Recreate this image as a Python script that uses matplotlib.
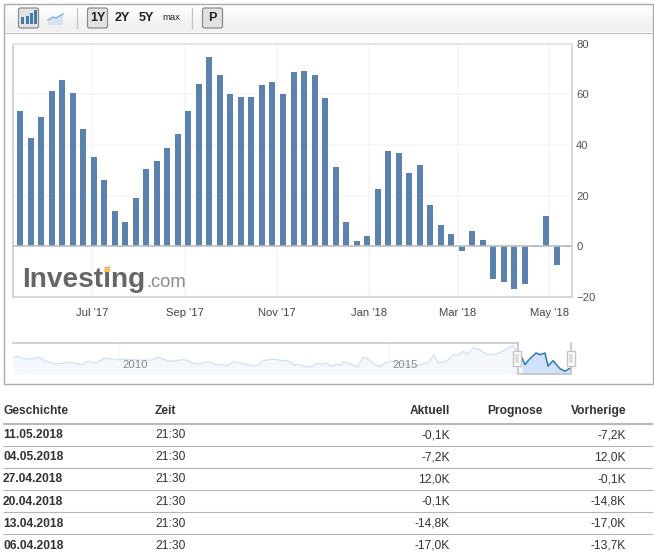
import matplotlib
matplotlib.use("Agg")
import matplotlib.pyplot as plt
from matplotlib.patches import FancyBboxPatch, Rectangle, Polygon

plt.rcParams['font.family'] = ['Liberation Sans', 'DejaVu Sans']

# ---- main series (thousand contracts, weekly)
bar_values = [53.5, 42.8, 51, 61.3, 65.7, 60.5, 46.3, 35.3, 26, 14, 9.5, 19.2, 30.6,
              33.7, 38.9, 44.4, 53.5, 64.1, 74.8, 67.6, 60.1, 58.9, 58.9, 63.7, 64.9,
              60.1, 68.8, 69.2, 67.6, 58.6, 31.4, 9.7, 2.2, 4.1, 22.7, 37.7, 37, 29,
              32.1, 16.4, 8.5, 4.9, -1.8, 6.1, 2.6, -12.8, -14, -17, -14.8, -0.1, 12,
              -7.2, -0.1]
month_positions = [6.84, 15.68, 24.43, 33.17, 41.63, 50.29]
month_labels = ["Jul '17", "Sep '17", "Nov '17", "Jan '18", "Mar '18", "May '18"]
y_ticks = [-20, 0, 20, 40, 60, 80]

# ---- navigator series
nav_x = [13, 18, 25, 33, 39, 45, 55, 70, 82, 88, 96, 105, 117, 125, 143, 152, 158, 168,
         177, 181, 187, 193, 200, 203, 209, 216, 222, 227, 234, 240, 253, 258, 263, 273,
         278, 281, 287, 295, 298, 307, 313, 316, 322, 327, 331, 337, 341, 343, 352, 358,
         363, 367, 372, 377, 381, 385, 393, 400, 415, 428, 434, 438, 447, 453, 458, 463,
         468, 473, 480, 487, 497, 510, 513, 517, 522, 525, 529, 536, 540, 545, 548, 553,
         560, 565, 569, 571]
nav_v = [16, 17.7, 15, 15.3, 16.7, 13.3, 10, 11.7, 9.3, 12.7, 11, 16, 14.3, 15, 13.7, 14,
         17, 13, 13, 14.3, 13.7, 10.7, 10, 11, 12.3, 9, 9.7, 8.3, 12.3, 11, 8.3, 8.7, 13.3,
         15, 14.3, 13, 13.7, 8.7, 9.7, 7, 7.7, 10.7, 9.7, 10.7, 7.7, 9.7, 8.7, 12.3, 9.3, 7,
         16.7, 16, 11.3, 8, 7.7, 11, 13, 11, 8, 11, 19.3, 11, 13.3, 19.3, 18.7, 22.7,
         20, 26, 24.3, 19.3, 20, 26.7, 28.3, 22.7, 16, 9.3, 14.3, 21, 19.3, 21, 8, 13.3,
         5.3, 2.7, 5.3, 6]
nav_tick_x = [119, 389]
nav_tick_labels = ["2010", "2015"]

# ---- table
table_header = ["Geschichte", "Zeit", "Aktuell", "Prognose", "Vorherige"]
table_dates = ["11.05.2018", "04.05.2018", "27.04.2018", "20.04.2018", "13.04.2018", "06.04.2018"]
table_times = ["21:30"] * 6
table_actual = ["-0,1K", "-7,2K", "12,0K", "-0,1K", "-14,8K", "-17,0K"]
table_prev = ["-7,2K", "12,0K", "-0,1K", "-14,8K", "-17,0K", "-13,7K"]

W, H = 654, 556
fig = plt.figure(figsize=(W / 100, H / 100), dpi=100, facecolor="white")


def px_axes(l, t, r, b, **kw):
    return fig.add_axes([l / W, 1 - b / H, (r - l) / W, (b - t) / H], **kw)


# overlay in pixel coordinates for page furniture
pg = fig.add_axes([0, 0, 1, 1], zorder=0)
pg.set_xlim(0, W)
pg.set_ylim(H, 0)
pg.axis("off")
PX = 12 * 0.72  # 12 px in points

pg.imshow([[0.985], [0.945]], cmap="gray", vmin=0, vmax=1, extent=(3.5, 652.5, 32.5, 3.5),
          aspect="auto", zorder=0, interpolation="bilinear")
pg.set_xlim(0, W)
pg.set_ylim(H, 0)
pg.add_patch(Rectangle((3.5, 3.5), 649, 380.5, fill=False, ec="#ababab", lw=1.0, zorder=1))
pg.plot([3.5, 652.5], [32.5, 32.5], color="#bdbdbd", lw=0.8, zorder=1)

for sx in (76.5, 191.5):
    pg.plot([sx, sx], [8, 28], color="#c4c4c4", lw=0.9, zorder=2)
for bx in (18.5, 87.5, 202.5):
    pg.add_patch(FancyBboxPatch((bx + 1.5, 9.5), 17, 17, boxstyle="round,pad=1.5,rounding_size=2",
                                fc="#e2e2e2", ec="#8c8c8c", lw=0.9, zorder=2))
for ix, ih in zip((21, 25.5, 30, 34), (7, 8, 11, 14)):
    pg.add_patch(Rectangle((ix, 24 - ih), 3, ih, fc="#4479ae", ec="none", zorder=3))
pg.add_patch(Polygon([(48, 20), (53, 17), (56, 18), (63, 14), (63, 25), (48, 25)],
                     fc="#d7e3f1", ec="none", zorder=3))
pg.plot([48, 53, 56, 63], [20, 17, 18, 14], color="#8fb2d6", lw=1.1, zorder=3)
for tx, s, fs in ((97.5, "1Y", 12), (122, "2Y", 12), (146, "5Y", 12), (171, "max", 9), (212.5, "P", 12)):
    pg.text(tx, 18, s, ha="center", va="center", fontsize=fs * 0.72 * 1.05, color="#222222",
            fontweight="bold" if fs == 12 else "normal", zorder=4)

# main chart
ax = px_axes(13, 43.5, 572, 297, zorder=2)
ax.set_facecolor("white")
xs = list(range(len(bar_values)))
ax.bar(xs, bar_values, width=0.57, color="#5b82ae", zorder=3)
ax.set_xlim(-0.665, 52.47)
ax.set_ylim(-20, 80)
ax.yaxis.tick_right()
ax.set_yticks(y_ticks)
ax.set_xticks(month_positions)
ax.set_xticklabels(month_labels)
ax.grid(True, color="#f6f6f6", lw=1.2, zorder=0)
ax.axhline(0, color="#bfbfbf", lw=1.2, zorder=4)
ax.tick_params(axis="both", length=0, labelsize=11 * 0.72 * 1.02, labelcolor="#555555")
ax.tick_params(axis="x", pad=8, labelcolor="#444444")
ax.tick_params(axis="y", pad=3)
for side, col, lw in (("left", "#cfcfcf", 1.3), ("top", "#e6e6e6", 1.5),
                      ("right", "#c9ced9", 1.1), ("bottom", "#c9ced9", 1.1)):
    ax.spines[side].set_color(col)
    ax.spines[side].set_linewidth(lw)

# logo
ax.text(0.0172, 0.04, "Investing", transform=ax.transAxes, fontsize=20.2, fontweight="bold",
        color="#666666", ha="left", va="baseline", zorder=5)
ax.text(0.238, 0.04, ".com", transform=ax.transAxes, fontsize=13.2,
        color="#8a8a8a", ha="left", va="baseline", zorder=5)
ax.add_patch(Polygon([(0.163, 0.112), (0.174, 0.126), (0.174, 0.098), (0.163, 0.098)],
                     transform=ax.transAxes, fc="#f7c36b", ec="none", zorder=6))

# navigator
nv = px_axes(13, 343, 572, 374, zorder=2)
nv.set_xlim(13, 572)
nv.set_ylim(0, 31)
nv.set_facecolor("none")
for s in nv.spines.values():
    s.set_visible(False)
nv.plot([13, 518], [31, 31], color="#c8c8c8", lw=1.2, clip_on=False, zorder=4)
nv.plot([518, 518, 571, 571], [31, 0, 0, 31], color="#c4c4c4", lw=1.2, clip_on=False, zorder=4)
i0 = next(i for i, x in enumerate(nav_x) if x >= 518) - 1
nv.fill_between(nav_x[:i0 + 2], nav_v[:i0 + 2], 0, color="#f4f8fd", lw=0, zorder=1)
nv.fill_between(nav_x[i0 + 1:], nav_v[i0 + 1:], 0, color="#cfe2fa", lw=0, zorder=1)
nv.plot(nav_x[:i0 + 2], nav_v[:i0 + 2], color="#d3e3f2", lw=1.0, zorder=2)
nv.plot(nav_x[i0 + 1:], nav_v[i0 + 1:], color="#2f78b7", lw=1.1, zorder=3)
nv.set_xticks(nav_tick_x)
nv.set_xticklabels([])
nv.set_yticks([])
nv.tick_params(length=0)
nv.grid(True, axis="x", color="#f6f6f6", lw=0.9, zorder=0)
for x, lab in zip(nav_tick_x, nav_tick_labels):
    nv.text(x + 16, 9.5, lab, ha="center", va="center", fontsize=11 * 0.72 * 1.02,
            color="#888888", zorder=5)
for hx in (517.5, 571):
    nv.add_patch(Rectangle((hx - 4, 8.5), 8, 14.5, fc="white", ec="#c4c4c4", lw=1.0, zorder=6, clip_on=False))
    nv.add_patch(Rectangle((hx - 2, 11), 4, 9.5, fc="#dcdcdc", ec="none", zorder=7, clip_on=False))

# table
h_y = 411
hdr_pos = [(3, "left"), (155, "left"), (450, "right"), (543, "right"), (626, "right")]
for (x, ha), s in zip(hdr_pos, table_header):
    pg.text(x, h_y, s, ha=ha, va="center", fontsize=PX, fontweight="bold", color="#333333")
pg.plot([3, 653], [423.5, 423.5], color="#b9b9b9", lw=1.5, solid_capstyle="butt")
row_y = [435, 457, 479, 502, 524, 546]
rule_y = [445.5, 467.5, 489.5, 511.5, 533.5]
for y in rule_y:
    pg.plot([3, 653], [y, y], color="#b5b5b5", lw=0.8, solid_capstyle="butt")
for y, d, t, a, p in zip(row_y, table_dates, table_times, table_actual, table_prev):
    pg.text(3, y, d, ha="left", va="center", fontsize=PX, fontweight="bold", color="#333333")
    pg.text(155, y, t, ha="left", va="center", fontsize=PX, color="#333333")
    pg.text(450, y, a, ha="right", va="center", fontsize=PX, color="#333333")
    pg.text(626, y, p, ha="right", va="center", fontsize=PX, color="#333333")

fig.savefig("out.png", dpi=100)
